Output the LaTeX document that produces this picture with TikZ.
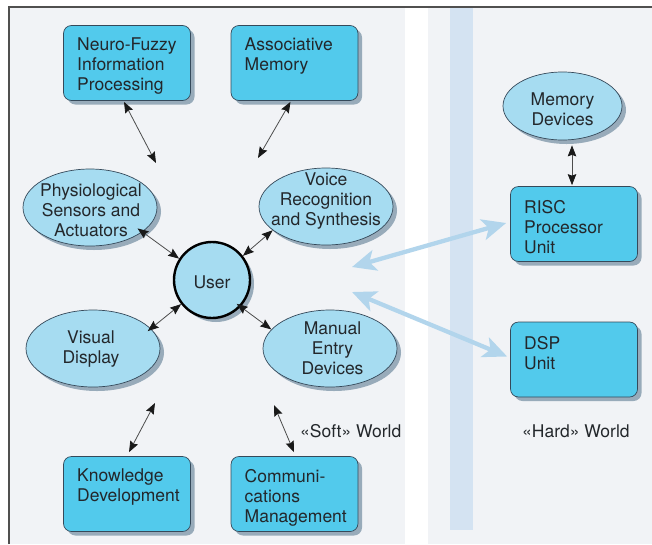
\documentclass[tikz,border=0pt]{standalone}
\usepackage{fontspec}
\setmainfont{TeX Gyre Heros}
\usetikzlibrary{shapes.geometric,arrows.meta,shadows}
\definecolor{boxc}{HTML}{52CAEC}
\definecolor{ellc}{HTML}{A6DCF1}
\definecolor{bordc}{HTML}{35495A}
\definecolor{shadc}{HTML}{98ABBA}
\definecolor{bgc}{HTML}{F1F3F6}
\definecolor{stripec}{HTML}{D4E3F2}
\definecolor{lblue}{HTML}{B2D5EC}
\definecolor{txtc}{HTML}{23272B}
\definecolor{framec}{HTML}{50504F}
\tikzset{
  shd/.style={drop shadow={shadow xshift=4pt,shadow yshift=-4pt,fill=shadc,opacity=1}},
  boxnode/.style={shape=rectangle,rounded corners=8pt,minimum width=127pt,minimum height=75pt,
    inner sep=0pt,fill=boxc,draw=bordc,line width=0.7pt,shd},
  ellnode/.style={shape=ellipse,minimum width=134pt,minimum height=77pt,inner sep=0pt,
    fill=ellc,draw=bordc,line width=0.7pt,shd},
  txt/.style={inner sep=0pt,text=txtc,font=\fontsize{17.5}{20}\selectfont},
  arr/.style={draw=black!70,line width=0.8pt,
    {Stealth[length=11pt,width=8.5pt,inset=1.5pt,color=black!90]}-{Stealth[length=11pt,width=8.5pt,inset=1.5pt,color=black!90]}},
  bigarr/.style={draw=lblue,line width=4.3pt,{Stealth[length=24pt,width=21pt,inset=6pt]}-{Stealth[length=24pt,width=21pt,inset=6pt]}}
}
\begin{document}
\begin{tikzpicture}[x=1pt,y=-1pt]
\useasboundingbox (0,0) rectangle (652,544);
% backgrounds
\fill[white] (0,0) rectangle (652,544);
\fill[bgc] (9,7) rectangle (405,544);
\fill[bgc] (428,7) rectangle (652,544);
\fill[stripec] (450,8) rectangle (473,530);
\draw[framec,line width=1.3pt] (9,544) -- (9,7) -- (652,7);

% boxes
\node[boxnode] (nf) at (127,63) {};
\node[boxnode] (am) at (294.5,63) {};
\node[boxnode] (kd) at (127,494) {};
\node[boxnode] (cm) at (294.5,494) {};
\node[boxnode] (risc) at (574,224) {};
\node[boxnode] (dsp) at (574,359.5) {};
\node[txt,anchor=north west,align=left] (nft) at (77,37.5) {Neuro-Fuzzy\\Information\\Processing};
\node[txt,anchor=north west,align=left] (amt) at (244.5,37.5) {Associative\\Memory};
\node[txt,anchor=north west,align=left] (kdt) at (77,469) {Knowledge\\Development};
\node[txt,anchor=north west,align=left] (cmt) at (244.5,469) {Communi-\\cations\\Management};
\node[txt,anchor=north west,align=left] (risct) at (524,200.5) {RISC\\Processor\\Unit};
\node[txt,anchor=north west,align=left] (dspt) at (524,336) {DSP\\Unit};

% ellipses
\node[ellnode] (ps) at (90,207.5) {};
\node[ellnode] (vr) at (326,206.5) {};
\node[ellnode] (vd) at (93,348.5) {};
\node[ellnode] (mn) at (330,348.5) {};
\node[ellnode,minimum width=119pt,minimum height=68pt] (md) at (562.5,106) {};
\node[shape=circle,minimum size=76pt,inner sep=0pt,fill=ellc,draw=black,line width=2.4pt,shd] (user) at (212,280) {};
\node[txt,align=center] (pst) at (91,210) {Physiological\\Sensors and\\Actuators};
\node[txt,align=center] (vrt) at (326,201) {Voice\\Recognition\\and Synthesis};
\node[txt,align=center] (vdt) at (91,349.5) {Visual\\Display};
\node[txt,align=center] (mnt) at (332.5,348) {Manual\\Entry\\Devices};
\node[txt,align=center] (mdt) at (562.5,109) {Memory\\Devices};
\node[txt] (usert) at (212,282) {User};

% labels
\node[txt,anchor=west] (soft) at (300,431) {«Soft» World};
\node[txt,anchor=west] (hard) at (522,431) {«Hard» World};

% black arrows
\coordinate (nfe) at (156,163);
\coordinate (ame) at (258,158);
\coordinate (kde) at (155,403);
\coordinate (cme) at (274,405);
\draw[arr] ([shift={(-3,1)}]nf.south) -- (nfe);
\draw[arr] ([shift={(-4,1)}]am.south) -- (ame);
\draw[arr] (kde) -- ([shift={(2,-4)}]kd.north);
\draw[arr] (cme) -- ([shift={(-0.5,-4)}]cm.north);
\draw[arr,shorten <=-6pt] (ps.-25) -- (user.147.5);
\draw[arr] (vr.204) -- (user.38.4);
\draw[arr,shorten <=-4pt] (vd.19) -- (user.218);
\draw[arr,shorten <=-5pt] (user.-43) -- (mn.162);
\draw[arr] ([shift={(-2,-1)}]risc.north) -- ([shift={(-2,5)}]risc.north |- md.south);

% light blue arrows
\coordinate (l1) at (352,267);
\coordinate (l2) at (352,292);
\draw[bigarr] (l1) -- ([shift={(-4,-1)}]risc.west);
\draw[bigarr] (l2) -- ([shift={(-3,-3)}]dsp.west);
\end{tikzpicture}
\end{document}
